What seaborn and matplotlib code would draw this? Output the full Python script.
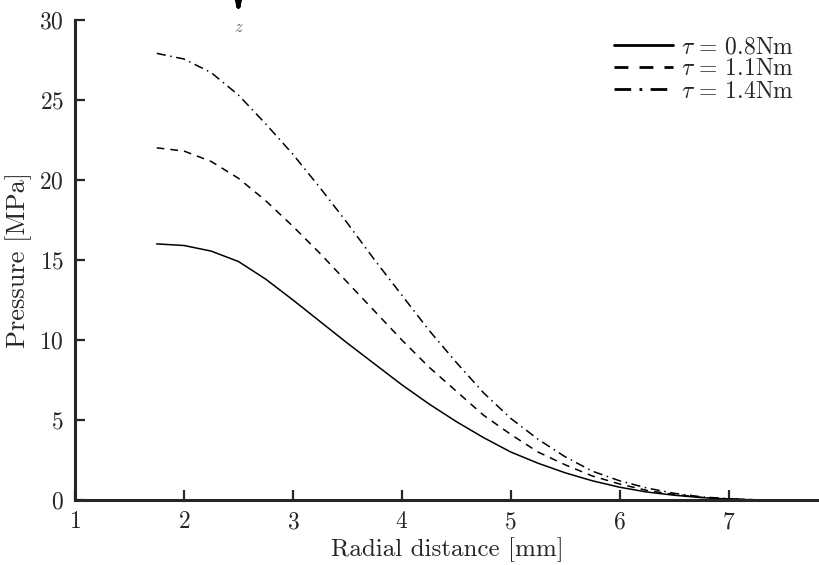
import matplotlib
matplotlib.use("Agg")
import matplotlib.pyplot as plt
import seaborn as sns
import numpy as np
import pandas as pd

# radial positions [mm]
radial = [1.75, 2.0, 2.25, 2.5, 2.75, 3.0, 3.25, 3.5, 3.75, 4.0, 4.25, 4.5,
          4.75, 5.0, 5.25, 5.5, 5.75, 6.0, 6.25, 6.5, 6.75, 7.0, 7.3]

# pressure [MPa] for each torque
p_08 = [16.0, 15.9, 15.55, 14.9, 13.8, 12.5, 11.15, 9.8, 8.5, 7.2, 6.0, 4.9,
        3.9, 3.0, 2.3, 1.7, 1.2, 0.8, 0.5, 0.3, 0.15, 0.06, 0.0]
p_11 = [22.0, 21.8, 21.15, 20.1, 18.7, 17.1, 15.4, 13.6, 11.8, 10.0, 8.3, 6.8,
        5.3, 4.1, 3.0, 2.2, 1.5, 1.0, 0.6, 0.35, 0.17, 0.07, 0.0]
p_14 = [27.9, 27.55, 26.7, 25.3, 23.5, 21.6, 19.5, 17.3, 15.0, 12.8, 10.6, 8.6,
        6.7, 5.1, 3.8, 2.7, 1.8, 1.2, 0.75, 0.42, 0.2, 0.08, 0.0]

labels = [r"$\tau\,=\,0.8\mathrm{Nm}$", r"$\tau\,=\,1.1\mathrm{Nm}$", r"$\tau\,=\,1.4\mathrm{Nm}$"]

sns.set_style("ticks")
plt.rcParams["font.family"] = "serif"
plt.rcParams["font.serif"] = ["cmr10"]
plt.rcParams["mathtext.fontset"] = "cm"
plt.rcParams["axes.formatter.use_mathtext"] = True

fig = plt.figure(figsize=(8.19, 5.65), dpi=100)
ax = fig.add_axes([0.0916, 0.115, 0.9084, 0.85])

styles = ["-", (0, (5, 4)), (0, (6, 3, 1, 3))]
for p, lab, ls in zip([p_08, p_11, p_14], labels, styles):
    df = pd.DataFrame({"r": radial, "p": p})
    sns.lineplot(data=df, x="r", y="p", ax=ax, color="black", linewidth=1.1,
                 linestyle=ls, label=lab)

ax.set_xlim(1, 7.83)
ax.set_ylim(0, 30)
ax.set_xticks([1, 2, 3, 4, 5, 6, 7])
ax.set_yticks([0, 5, 10, 15, 20, 25, 30])
ax.tick_params(direction="in", length=7, width=1.6, labelsize=17, pad=8)
ax.set_xlabel("Radial distance [mm]", fontsize=18, labelpad=3)
ax.set_ylabel("Pressure [MPa]", fontsize=19, labelpad=5)
for s in ["top", "right"]:
    ax.spines[s].set_visible(False)
for s in ["left", "bottom"]:
    ax.spines[s].set_linewidth(2.2)

leg = ax.legend(loc="upper right", bbox_to_anchor=(0.995, 1.01), frameon=False,
                fontsize=17, handlelength=2.5, handletextpad=0.35, labelspacing=0.0)
for h in leg.get_lines():
    h.set_linewidth(2.0)

# load direction arrow
ax.annotate("", xy=(2.5, 30.15), xytext=(2.5, 31.3), xycoords="data",
            arrowprops=dict(arrowstyle="-|>,head_length=0.6,head_width=0.15",
                            color="black", lw=3, mutation_scale=12),
            annotation_clip=False)
ax.text(2.5, 29.5, r"$z$", ha="center", va="center", fontsize=12, color="#666666")

fig.savefig("out.png", dpi=100)
